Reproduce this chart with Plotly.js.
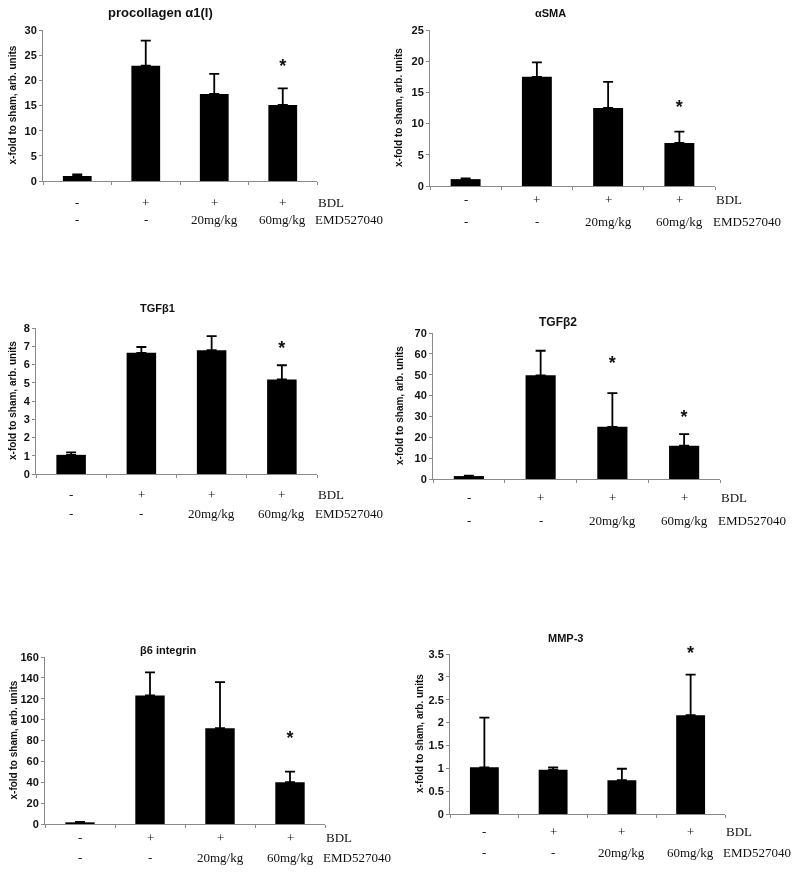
<!DOCTYPE html>
<html>
<head>
<meta charset="utf-8">
<script src="https://cdn.plot.ly/plotly-3.0.1.min.js"></script>
<style>
html,body{margin:0;padding:0;background:#fff;}
#chart{width:800px;height:872px;}
#chart svg{will-change:transform;}
</style>
</head>
<body>
<div id="chart"></div>
<script>
// ---- data ----
const groups = ['sham', 'BDL', 'BDL + 20mg/kg', 'BDL + 60mg/kg'];
const bdlLabels = ['-', '+', '+', '+'];
const emdLabels = ['-', '-', '20mg/kg', '60mg/kg'];
const rowNames = ['BDL', 'EMD527040'];
const yTitle = 'x-fold to sham, arb. units';

const panelTitles = ['procollagen \u03b11(I)', '\u03b1SMA', 'TGF\u03b21', 'TGF\u03b22', '\u03b26 integrin', 'MMP-3'];

const procollagenMean = [1.0, 22.9, 17.3, 15.1];
const procollagenErr  = [0.3, 5.0, 4.0, 3.3];
const procollagenStar = [null, null, null, 22.5];

const asmaMean = [1.1, 17.5, 12.5, 6.9];
const asmaErr  = [0.1, 2.3, 4.2, 1.8];
const asmaStar = [null, null, null, 12.4];

const tgfb1Mean = [1.05, 6.64, 6.78, 5.18];
const tgfb1Err  = [0.13, 0.32, 0.78, 0.78];
const tgfb1Star = [null, null, null, 6.8];

const tgfb2Mean = [1.4, 49.7, 25.0, 16.0];
const tgfb2Err  = [0.2, 11.8, 16.2, 5.5];
const tgfb2Star = [null, null, 54.8, 28.8];

const b6Mean = [1.6, 123.2, 91.8, 40.0];
const b6Err  = [0.5, 22.1, 44.2, 10.2];
const b6Star = [null, null, null, 80.6];

const mmp3Mean = [1.02, 0.97, 0.74, 2.16];
const mmp3Err  = [1.09, 0.05, 0.25, 0.89];
const mmp3Star = [null, null, null, 3.5];

const yRanges = [[0, 30], [0, 25], [0, 8], [0, 70], [0, 160], [0, 3.5]];
const yDticks = [5, 5, 1, 10, 20, 0.5];

// ---- layout geometry (pixels) ----
const W = 800, H = 872;
const panels = [
  {x0: 43,  x1: 317, yTop: 30,  yBot: 181, tx: 160, ty: 13,  tsize: 13, ytx: 12,  rowA: 202, rowB: 220},
  {x0: 430, x1: 715, yTop: 30,  yBot: 186, tx: 550, ty: 13,  tsize: 11, ytx: 398, rowA: 200, rowB: 221},
  {x0: 36,  x1: 317, yTop: 328, yBot: 474, tx: 157, ty: 308, tsize: 11, ytx: 12,  rowA: 494, rowB: 513},
  {x0: 433, x1: 720, yTop: 333, yBot: 479, tx: 558, ty: 322, tsize: 12, ytx: 400, rowA: 498, rowB: 520},
  {x0: 45,  x1: 325, yTop: 657, yBot: 824, tx: 168, ty: 650, tsize: 11, ytx: 13,  rowA: 837, rowB: 857},
  {x0: 450, x1: 725, yTop: 654, yBot: 814, tx: 565, ty: 638, tsize: 11, ytx: 419, rowA: 831, rowB: 852}
];
const means = [procollagenMean, asmaMean, tgfb1Mean, tgfb2Mean, b6Mean, mmp3Mean];
const errs  = [procollagenErr, asmaErr, tgfb1Err, tgfb2Err, b6Err, mmp3Err];
const stars = [procollagenStar, asmaStar, tgfb1Star, tgfb2Star, b6Star, mmp3Star];

const px = v => v / W;
const py = v => 1 - v / H;

const sansFam = 'Liberation Sans, Arial, sans-serif';
const sansBold = {family: sansFam, size: 11, color: '#111', weight: 700};
const serif = {family: 'Liberation Serif, Times New Roman, serif', size: 13, color: '#111'};
const axisColor = '#8a8a8a';

const data = [];
const layout = {
  width: W, height: H,
  margin: {l: 0, r: 0, t: 0, b: 0},
  paper_bgcolor: '#fff', plot_bgcolor: '#fff',
  showlegend: false,
  annotations: []
};

panels.forEach((p, i) => {
  const n = i + 1;
  const xa = 'x' + (n === 1 ? '' : n);
  const ya = 'y' + (n === 1 ? '' : n);
  data.push({
    type: 'bar', x: groups, y: means[i], xaxis: xa, yaxis: ya,
    width: 0.42,
    marker: {color: '#000', line: {width: 0}},
    error_y: {type: 'data', symmetric: false, array: errs[i], arrayminus: groups.map(() => 0),
              color: '#000', thickness: 1.8, width: 5},
    hoverinfo: 'skip'
  });
  // significance stars
  data.push({
    type: 'scatter', mode: 'text', x: groups, y: stars[i], xaxis: xa, yaxis: ya,
    text: stars[i].map(v => v === null ? '' : '*'),
    textposition: 'middle center', cliponaxis: false,
    textfont: {family: sansFam, size: 18, color: '#111', weight: 700},
    hoverinfo: 'skip'
  });
  layout['xaxis' + (n === 1 ? '' : n)] = {
    domain: [px(p.x0), px(p.x1)], anchor: ya, type: 'category',
    range: [-0.5, 3.5], showline: true, linecolor: axisColor, linewidth: 1,
    ticks: 'outside', tickson: 'boundaries', ticklen: 3, tickcolor: axisColor,
    showticklabels: false, showgrid: false, zeroline: false, fixedrange: true
  };
  layout['yaxis' + (n === 1 ? '' : n)] = {
    domain: [py(p.yBot), py(p.yTop)], anchor: xa,
    range: yRanges[i], dtick: yDticks[i], tick0: 0,
    showline: true, linecolor: axisColor, linewidth: 1,
    ticks: 'outside', ticklen: 3, tickcolor: axisColor,
    tickfont: sansBold, showgrid: false, zeroline: false, fixedrange: true
  };
  // panel title
  layout.annotations.push({
    text: panelTitles[i], xref: 'paper', yref: 'paper', x: px(p.tx), y: py(p.ty),
    xanchor: 'center', yanchor: 'middle', showarrow: false,
    font: Object.assign({}, sansBold, {size: p.tsize})
  });
  // y title
  layout.annotations.push({
    text: yTitle, xref: 'paper', yref: 'paper', x: px(p.ytx), y: py((p.yTop + p.yBot) / 2),
    xanchor: 'center', yanchor: 'middle', textangle: -90, showarrow: false,
    font: Object.assign({}, sansBold, {size: 10})
  });
  // row labels under each bar
  groups.forEach((g, k) => {
    layout.annotations.push({
      text: bdlLabels[k], xref: xa, yref: 'paper', x: g, y: py(p.rowA),
      xanchor: 'center', yanchor: 'middle', showarrow: false, font: serif
    });
    layout.annotations.push({
      text: emdLabels[k], xref: xa, yref: 'paper', x: g, y: py(p.rowB),
      xanchor: 'center', yanchor: 'middle', showarrow: false, font: serif
    });
  });
  // row names
  layout.annotations.push({
    text: rowNames[0], xref: xa + ' domain', yref: 'paper', x: 1, y: py(p.rowA),
    xanchor: 'left', yanchor: 'middle', xshift: -1, showarrow: false, font: serif
  });
  layout.annotations.push({
    text: rowNames[1], xref: xa + ' domain', yref: 'paper', x: 1, y: py(p.rowB),
    xanchor: 'left', yanchor: 'middle', xshift: -4, showarrow: false, font: serif
  });
});

Plotly.newPlot('chart', data, layout, {displayModeBar: false, staticPlot: true});
</script>
</body>
</html>
